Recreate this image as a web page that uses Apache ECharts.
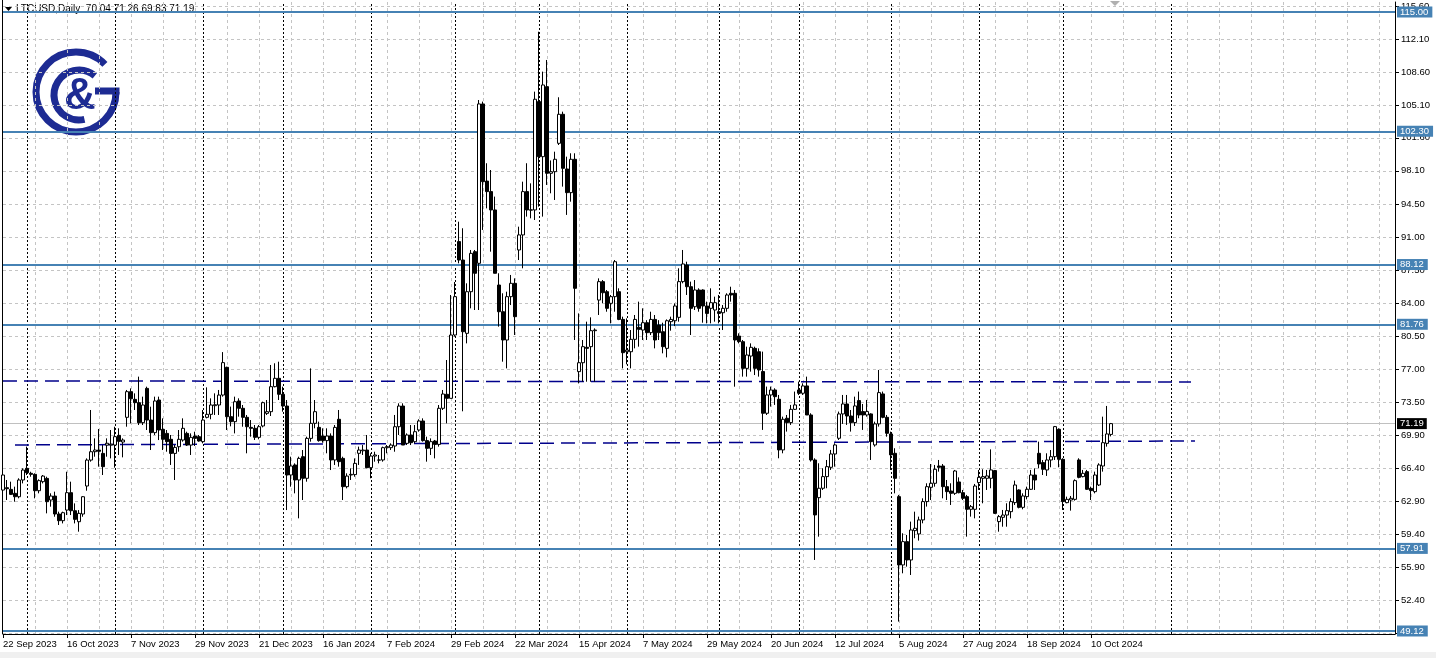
<!DOCTYPE html>
<html><head><meta charset="utf-8">
<script src="https://cdn.jsdelivr.net/npm/echarts@6/dist/echarts.min.js"></script>
<style>html,body{margin:0;padding:0;background:#fff}#c{width:1436px;height:658px}</style>
</head><body><div id="c"></div>
<script>
// ---- data ----
const startDate = '2023-09-22';
const holidays = ['2023-12-25', '2024-01-01'];
const totalSlots = 349;          // bars + empty right margin (chart shift)
const futureSeparator = 292;     // month separator drawn in the empty area

const opens = [
64.12,64.37,64.19,63.77,63.41,65.19,66.43,65.90,65.79,64.05,
65.01,65.36,63.06,63.48,61.57,60.86,61.99,63.84,61.92,60.75,
61.57,64.55,67.31,68.20,68.38,68.02,68.90,68.90,68.91,69.94,
69.23,71.86,74.59,73.77,73.42,71.29,74.94,71.57,70.23,73.70,
70.58,70.15,69.52,68.02,68.73,69.44,70.15,68.91,69.87,69.80,
69.27,71.86,72.18,73.10,73.17,74.23,77.18,71.93,71.40,73.60,
72.82,71.86,70.79,70.69,69.73,70.94,72.28,72.46,75.12,76.01,
74.31,73.06,65.72,66.79,65.19,67.67,65.37,69.62,71.22,70.79,
69.87,69.38,69.87,67.32,71.65,67.49,64.48,65.72,65.76,68.03,
68.30,68.38,66.50,67.74,67.30,67.32,68.63,68.63,68.81,70.86,
73.06,69.09,69.98,69.27,70.51,71.47,69.38,68.56,69.34,68.98,
72.82,74.31,73.88,80.62,90.56,88.60,80.80,85.23,89.49,88.25,
105.21,97.00,95.88,93.93,85.94,83.10,80.09,84.70,86.12,89.67,
91.27,95.88,93.90,93.93,105.46,99.60,107.05,97.83,98.00,101.02,
104.11,98.29,95.77,99.32,76.72,77.67,79.31,79.38,81.08,84.34,
86.30,85.23,83.99,84.70,85.23,82.28,78.84,78.84,80.16,81.44,
81.15,81.93,80.87,82.28,81.68,80.97,79.20,82.04,82.14,82.50,
86.30,88.07,85.76,83.63,85.41,85.41,83.71,83.46,83.28,83.10,
82.99,83.46,85.06,85.06,80.51,79.91,77.07,78.38,79.20,78.84,
76.73,72.29,74.24,74.77,73.78,68.39,71.76,71.30,72.71,74.77,
74.42,75.20,72.11,67.32,63.31,64.31,65.55,66.54,67.96,69.63,
72.22,73.28,72.00,71.30,73.64,72.47,72.11,72.22,68.92,71.16,
74.35,71.86,70.09,68.03,63.42,56.15,58.63,56.68,59.80,59.45,
60.94,62.89,64.41,64.84,66.68,66.68,64.48,64.02,63.77,64.98,
63.84,63.42,62.07,62.07,64.91,65.37,65.37,65.37,66.19,60.76,
61.22,61.46,61.82,62.78,64.13,62.28,63.42,64.20,65.72,68.03,
67.04,66.26,67.32,67.67,70.58,67.39,62.78,63.06,63.13,67.32,
65.55,66.08,64.30,63.95,64.66,66.68,69.09,70.04];
const highs = [
65.90,65.19,65.01,64.48,65.37,66.43,68.74,66.07,65.90,65.26,
65.72,65.54,63.77,63.95,61.82,61.82,66.07,65.01,62.70,61.99,
63.48,67.49,72.64,69.62,70.62,68.91,69.62,70.51,70.86,70.69,
69.62,74.77,74.94,74.41,76.19,74.06,75.12,72.99,74.06,74.06,
71.75,70.51,69.98,68.91,70.51,71.75,70.33,70.15,70.33,69.98,
72.64,75.05,73.88,74.41,74.77,78.80,77.25,73.00,74.06,73.88,
73.17,72.11,71.57,71.04,71.04,73.53,73.70,77.43,77.61,77.78,
75.12,73.70,67.67,66.96,67.67,68.38,69.80,77.07,73.70,71.40,
70.69,70.69,70.15,71.04,72.64,67.67,65.90,66.43,67.49,68.74,
68.91,69.98,68.03,68.20,67.85,68.74,68.91,69.09,72.11,73.35,
73.35,70.15,71.04,71.04,71.65,71.75,69.80,69.62,69.45,73.17,
74.77,77.96,84.88,86.26,92.68,91.98,86.12,89.67,89.67,105.63,
105.46,98.90,98.18,95.35,87.19,85.06,85.23,87.01,86.65,92.15,
96.94,98.90,96.76,106.52,112.90,108.65,109.89,99.20,100.13,105.92,
104.39,99.60,99.96,99.96,82.92,80.09,82.04,82.50,81.33,86.65,
86.47,85.41,84.88,88.60,85.59,82.57,82.39,81.15,82.75,84.17,
83.46,82.20,83.10,82.75,82.20,81.93,82.28,82.57,83.99,87.72,
89.67,88.42,86.30,86.47,85.59,85.48,84.17,85.59,84.70,84.88,
83.81,85.06,85.76,85.41,80.80,80.09,79.38,79.73,79.38,79.20,
78.85,75.13,75.13,74.95,74.24,71.93,72.11,73.18,74.60,75.66,
75.48,76.19,72.29,67.50,66.97,66.44,67.32,68.39,69.10,72.47,
74.24,74.24,72.64,74.06,74.60,73.28,73.71,72.29,71.40,76.90,
74.60,72.11,70.34,68.57,63.60,59.52,59.34,60.76,61.82,61.29,
63.24,64.84,66.89,66.79,67.32,66.89,65.19,64.84,66.26,65.47,
64.13,63.60,62.53,64.77,66.26,66.33,66.26,68.45,66.26,61.46,
62.00,62.71,63.24,65.12,64.20,63.77,64.48,66.26,66.43,69.27,
67.32,68.03,68.38,70.94,70.69,67.50,63.42,63.49,65.26,67.50,
66.26,66.26,64.48,66.08,66.97,71.93,73.07,71.26];
const lows = [
63.95,63.06,63.59,62.88,63.24,64.83,65.72,65.54,63.24,63.77,
64.83,61.64,62.35,61.28,60.40,60.57,61.46,61.46,60.57,59.69,
61.28,64.05,67.14,67.67,66.61,65.72,67.67,67.49,66.50,67.85,
67.60,70.86,71.22,72.64,71.04,71.04,70.51,68.38,69.98,69.44,
68.38,68.20,66.79,65.19,68.20,69.27,68.81,67.85,68.81,69.27,
69.09,71.75,71.65,72.11,72.11,74.06,70.51,70.90,70.15,71.93,
70.86,68.03,69.80,69.45,69.52,70.79,72.11,72.00,75.05,73.70,
72.46,61.99,64.48,63.77,61.11,63.06,65.01,69.27,70.69,69.27,
69.16,68.03,66.25,66.79,66.61,63.06,64.30,65.19,65.54,66.79,
67.85,66.43,65.37,67.14,66.96,67.14,68.03,68.38,68.20,69.98,
68.91,68.91,68.91,69.09,70.33,69.27,67.14,67.85,67.49,68.74,
72.64,71.22,73.88,80.45,88.25,72.50,79.73,83.46,83.28,83.28,
91.80,94.10,89.49,87.19,81.51,77.78,77.07,83.81,80.62,88.60,
87.72,93.22,93.04,92.86,94.28,93.22,96.59,95.70,94.99,100.84,
96.41,93.40,94.81,80.09,75.47,75.65,75.65,75.65,75.65,82.75,
83.99,83.10,81.86,83.10,82.20,77.07,77.50,77.07,79.20,79.38,
80.09,80.09,80.62,79.20,80.09,78.67,78.24,81.08,81.57,82.04,
86.12,84.88,80.62,83.28,83.10,81.93,81.86,81.86,82.04,81.86,
81.15,83.10,84.17,75.12,79.73,76.19,76.19,76.72,76.36,76.19,
70.52,72.11,73.00,73.18,67.50,68.03,70.34,71.05,72.64,74.24,
74.24,72.11,67.15,56.68,59.16,64.13,64.31,66.26,66.61,69.45,
71.16,71.05,70.34,70.94,71.76,70.52,71.93,67.32,68.74,70.87,
71.76,69.80,66.26,63.77,50.12,55.26,55.97,55.08,58.99,58.74,
60.58,62.36,63.06,64.48,66.08,63.24,63.06,62.53,63.60,63.77,
63.06,59.16,61.29,61.11,64.13,62.71,64.13,64.31,61.57,59.69,
60.22,60.22,61.11,62.53,62.17,62.07,63.13,64.13,64.13,66.43,
65.72,65.62,66.54,67.32,66.54,62.00,62.71,61.93,62.99,65.37,
65.47,64.13,63.06,63.77,64.55,66.08,68.74,69.83];
const closes = [
65.72,64.26,63.66,63.41,65.19,66.25,65.97,65.79,64.05,65.12,
65.61,62.88,63.48,61.57,60.86,61.71,63.84,61.92,61.00,61.64,
63.41,67.31,68.20,68.38,68.24,66.61,69.10,69.00,69.80,69.30,
69.44,74.59,73.84,73.42,71.29,73.17,71.57,70.23,73.60,70.51,
69.52,69.27,68.02,68.66,69.52,70.69,68.91,69.73,69.62,69.34,
71.57,72.18,73.17,73.20,74.23,77.68,71.93,71.40,73.52,72.82,
71.86,70.86,70.69,69.73,70.86,73.42,72.46,75.12,76.01,74.31,
73.06,65.72,66.68,65.19,67.49,65.37,69.62,71.22,72.46,69.38,
69.38,69.87,67.32,70.79,67.14,64.48,65.61,65.79,66.96,68.38,
68.38,66.50,67.74,67.85,67.32,68.63,68.74,68.91,70.86,73.06,
68.91,69.98,69.16,70.33,71.47,69.38,68.56,69.27,68.98,72.82,
74.34,73.88,80.62,84.70,88.60,80.97,85.23,89.31,87.19,105.21,
96.94,95.88,93.93,87.19,83.10,80.09,84.70,86.12,82.57,91.27,
95.88,93.93,93.95,105.71,99.60,107.23,97.83,98.00,99.32,104.11,
98.36,95.77,99.32,85.59,77.67,79.38,79.20,81.08,81.15,86.30,
85.12,83.46,84.70,88.42,82.28,78.74,79.02,80.16,82.28,81.22,
81.93,80.87,82.28,80.09,80.87,79.38,82.14,82.28,83.71,86.30,
88.18,85.76,83.46,85.41,83.46,83.71,82.92,84.06,84.06,82.92,
83.46,84.88,84.88,80.09,79.91,77.07,78.49,79.31,77.07,76.90,
72.29,74.24,74.77,74.06,68.39,71.65,71.30,72.71,73.18,74.42,
75.20,72.11,67.32,61.47,64.31,65.55,66.61,67.96,68.92,72.22,
73.28,72.00,71.30,73.07,72.11,72.11,72.47,69.27,71.16,74.49,
71.86,70.16,67.86,65.37,56.15,58.63,56.68,59.87,60.05,60.94,
62.89,64.48,64.84,66.33,66.54,64.48,63.95,63.77,66.15,63.84,
63.24,62.07,62.35,64.55,65.47,65.55,65.62,66.26,61.64,61.29,
61.46,61.93,62.89,64.66,62.28,63.49,64.20,65.72,65.19,66.90,
66.33,67.32,67.67,70.87,67.39,62.89,63.13,63.24,65.12,65.47,
65.90,64.20,64.06,65.72,66.79,69.16,70.09,71.19];

const yTicks = [48.90,52.40,55.90,59.40,62.90,66.40,69.90,73.50,77.00,80.50,84.00,87.50,91.00,94.50,98.10,101.60,105.10,108.60,112.10,115.60];
const levels = [115.00, 102.30, 88.12, 81.76, 57.91, 49.12];
const lastPrice = 71.19;
const trendTop = [[0, 75.73], [297, 75.62]];
const trendLow = [[3, 68.92], [298, 69.34]];
const headerText = 'LTCUSD,Daily  70.04 71.26 69.83 71.19';

// ---- helpers ----
const MONTHS = ['Jan','Feb','Mar','Apr','May','Jun','Jul','Aug','Sep','Oct','Nov','Dec'];
function buildDates(start, count, skip) {
  const out = []; const d = new Date(start + 'T00:00:00Z');
  while (out.length < count) {
    const wd = d.getUTCDay(); const iso = d.toISOString().slice(0, 10);
    if (wd !== 0 && wd !== 6 && skip.indexOf(iso) < 0) out.push(iso);
    d.setUTCDate(d.getUTCDate() + 1);
  }
  return out;
}
const categories = buildDates(startDate, totalSlots, holidays);
const nBars = opens.length;
const fmtDate = s => { const p = s.split('-'); return (+p[2]) + ' ' + MONTHS[+p[1] - 1] + ' ' + p[0]; };
const candles = opens.map((o, i) => [o, closes[i], lows[i], highs[i]]);
const separators = [];
for (let i = 1; i < nBars; i++) if (categories[i].slice(5, 7) !== categories[i - 1].slice(5, 7)) separators.push(i);
separators.push(futureSeparator);

const FONT = 'Liberation Sans';
const NAVY = '#1d2b93';

const chart = echarts.init(document.getElementById('c'), null, {renderer: 'canvas'});
chart.setOption({
  animation: false,
  backgroundColor: '#ffffff',
  grid: {left: 3, right: 41, top: 2, bottom: 24, show: false},
  xAxis: {
    type: 'category', data: categories, boundaryGap: false,
    axisLine: {show: true, lineStyle: {color: '#000', width: 1}},
    axisTick: {show: true, length: 4, interval: (i) => i % 16 === 0 && i < nBars, lineStyle: {color: '#000'}},
    axisLabel: {interval: (i) => i % 16 === 0 && i < nBars, align: 'left', margin: 5, color: '#000',
      fontSize: 9.5, fontFamily: FONT, formatter: (v) => fmtDate(v)},
    splitLine: {show: true, interval: (i) => i % 8 === 0 && i > 0, lineStyle: {color: '#c4c4c4', type: [3, 3], width: 1}}
  },
  yAxis: {
    type: 'value', position: 'right', min: 48.8, max: 116.06,
    axisLine: {show: true, lineStyle: {color: '#000', width: 1}},
    axisTick: {show: true, length: 4, customValues: yTicks, lineStyle: {color: '#000'}},
    axisLabel: {show: true, customValues: yTicks, formatter: (v) => v.toFixed(2), color: '#000',
      fontSize: 9.5, fontFamily: FONT, margin: 6},
    splitLine: {show: false}
  },
  series: [
    { // horizontal grid
      type: 'line', data: [], z: 1, silent: true,
      markLine: {symbol: 'none', silent: true, animation: false, label: {show: false},
        lineStyle: {color: '#c4c4c4', type: [3, 3], width: 1},
        data: yTicks.map(v => ({yAxis: v}))}
    },
    { // month separators
      type: 'line', data: [], z: 2, silent: true,
      markLine: {symbol: 'none', silent: true, animation: false, label: {show: false},
        lineStyle: {color: '#000', type: [2, 2], width: 1},
        data: separators.map(i => ({xAxis: categories[i]}))}
    },
    { // current price line
      type: 'line', data: [], z: 3, silent: true,
      markLine: {symbol: 'none', silent: true, animation: false,
        lineStyle: {color: '#c0c0c0', type: 'solid', width: 1},
        label: {show: true, position: 'end', distance: 2, formatter: lastPrice.toFixed(2), color: '#fff',
          backgroundColor: '#000', padding: [1, 3, 0, 3], fontSize: 9.5, fontFamily: FONT},
        data: [{yAxis: lastPrice}]}
    },
    {
      type: 'candlestick', data: candles, z: 5, clip: false, barWidth: 3,
      itemStyle: {color: '#ffffff', color0: '#000000', borderColor: '#000000', borderColor0: '#000000', borderWidth: 1}
    },
    { // support / resistance levels and trend lines
      type: 'line', data: [], z: 6, silent: true,
      markLine: {symbol: 'none', silent: true, animation: false,
        data: levels.map(v => ({yAxis: v,
          lineStyle: {color: '#4682b4', width: 2, type: 'solid'},
          label: {show: true, position: 'end', distance: 2, formatter: v.toFixed(2), color: '#fff',
            backgroundColor: '#4682b4', padding: [1, 4, 0, 3], fontSize: 9.5, fontFamily: FONT}}))
          .concat([trendTop, trendLow].map(t => [
            {coord: [categories[t[0][0]], t[0][1]], lineStyle: {color: '#00008b', width: 1.5, type: [14, 7]}, label: {show: false}},
            {coord: [categories[t[1][0]], t[1][1]]}
          ]))}
    }
  ],
  graphic: [
    {type: 'rect', shape: {x: 0, y: 652, width: 1436, height: 6}, style: {fill: '#f0f0f0'}, silent: true},
    {type: 'line', shape: {x1: 2.5, y1: 0, x2: 2.5, y2: 634}, style: {stroke: '#000', lineWidth: 1}, silent: true},
    {type: 'polygon', shape: {points: [[5, 7], [12, 7], [8.5, 11]]}, style: {fill: '#000'}, silent: true},
    {type: 'text', x: 16, y: 4, style: {text: headerText, font: '10px "Liberation Sans"', fill: '#000'}, silent: true},
    {type: 'polygon', shape: {points: [[1110, 1], [1120, 1], [1115, 6]]}, style: {fill: '#b0b0b0'}, silent: true},
    // logo
    {type: 'arc', shape: {cx: 76, cy: 92, r: 40, startAngle: 0, endAngle: 5.52, clockwise: true},
      style: {stroke: NAVY, lineWidth: 7, fill: null}, silent: true},
    {type: 'line', shape: {x1: 95, y1: 91, x2: 119.5, y2: 91}, style: {stroke: NAVY, lineWidth: 7}, silent: true},
    {type: 'arc', shape: {cx: 79, cy: 95, r: 25, startAngle: 1.35, endAngle: 5.4, clockwise: true},
      style: {stroke: NAVY, lineWidth: 7, fill: null}, silent: true},
    {type: 'text', x: 80, y: 97, style: {text: '&', font: 'bold 44px "Liberation Sans"', fill: NAVY,
      textAlign: 'center', textVerticalAlign: 'middle'}, silent: true}
  ]
});
</script>
</body></html>
